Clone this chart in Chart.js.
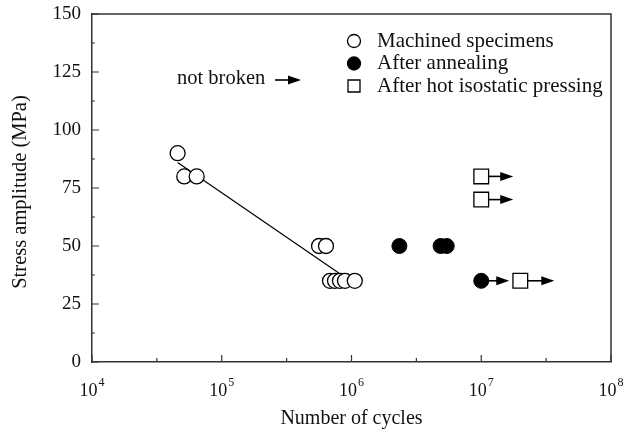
<!DOCTYPE html>
<html><head><meta charset="utf-8">
<script src="https://cdn.jsdelivr.net/npm/chart.js@4"></script>
<style>html,body{margin:0;padding:0;background:#fff}#wrap{width:626px;height:435px;position:relative}</style>
</head><body><div id="wrap"><canvas id="c" width="626" height="435"></canvas></div>
<script>
// ---- data ----
const machinedCycles = [4.57e4, 5.14e4, 6.41e4, 5.62e5, 6.36e5, 6.83e5, 7.46e5, 8.15e5, 8.91e5, 1.06e6];
const machinedStress = [90, 80, 80, 50, 50, 35, 35, 35, 35, 35];
const annealedCycles = [2.34e6, 4.86e6, 5.42e6, 1.0e7];
const annealedStress = [50, 50, 50, 35];
const hipCycles = [1.0e7, 1.0e7, 2.0e7];
const hipStress = [80, 70, 35];
const fitCycles = [4.57e4, 8.4e5];
const fitStress = [86, 37.5];
const runoutCycles = [1.0e7, 1.0e7, 1.0e7, 2.0e7];
const runoutStress = [80, 70, 35, 35];
const xTickExponents = [4, 5, 6, 7, 8];
const yTickValues = [0, 25, 50, 75, 100, 125, 150];
const seriesLabels = ['Machined specimens', 'After annealing', 'After hot isostatic pressing'];
const runoutLabel = 'not broken';
const xTitle = 'Number of cycles';
const yTitle = 'Stress amplitude (MPa)';

const pts = (xs, ys) => xs.map((x, i) => ({x, y: ys[i]}));
const FONT = "'Liberation Serif', 'Times New Roman', serif";
const INK = '#111';
const AXIS = '#333';

function arrow(ctx, x0, x1, y) {
  ctx.save();
  ctx.strokeStyle = '#000'; ctx.fillStyle = '#000'; ctx.lineWidth = 1.6;
  ctx.beginPath(); ctx.moveTo(x0, y); ctx.lineTo(x1 - 8, y); ctx.stroke();
  ctx.beginPath(); ctx.moveTo(x1, y); ctx.lineTo(x1 - 13, y - 4.5); ctx.lineTo(x1 - 13, y + 4.5); ctx.closePath(); ctx.fill();
  ctx.restore();
}

const deco = {
  id: 'deco',
  afterDraw(chart) {
    const {ctx, chartArea: a, scales: {x, y}} = chart;
    ctx.save();
    ctx.strokeStyle = AXIS; ctx.lineWidth = 1.5;
    ctx.beginPath();
    ctx.moveTo(a.left, a.top); ctx.lineTo(a.right, a.top); ctx.lineTo(a.right, a.bottom);
    ctx.stroke();
    ctx.lineWidth = 1.2;
    ctx.beginPath();
    xTickExponents.forEach((e, i) => {
      const px = x.getPixelForValue(Math.pow(10, e));
      ctx.moveTo(px, a.bottom); ctx.lineTo(px, a.bottom - 7);
      if (i < xTickExponents.length - 1) {
        const pm = x.getPixelForValue(Math.pow(10, e + 0.5));
        ctx.moveTo(pm, a.bottom); ctx.lineTo(pm, a.bottom - 4);
      }
    });
    yTickValues.forEach((v, i) => {
      const py = y.getPixelForValue(v);
      ctx.moveTo(a.left, py); ctx.lineTo(a.left + 7, py);
      if (i < yTickValues.length - 1) {
        const pm = y.getPixelForValue(v + 12.5);
        ctx.moveTo(a.left, pm); ctx.lineTo(a.left + 3, pm);
      }
    });
    ctx.stroke();
    ctx.fillStyle = INK;
    ctx.textBaseline = 'alphabetic';
    xTickExponents.forEach(e => {
      const px = x.getPixelForValue(Math.pow(10, e));
      ctx.font = '18px ' + FONT;
      const wb = ctx.measureText('10').width;
      ctx.font = '12px ' + FONT;
      const we = ctx.measureText(String(e)).width;
      const left = px - (wb + we + 1) / 2;
      ctx.font = '18px ' + FONT;
      ctx.textAlign = 'left';
      ctx.fillText('10', left, 396);
      ctx.font = '12px ' + FONT;
      ctx.fillText(String(e), left + wb + 1, 386);
    });
    ctx.font = '20px ' + FONT;
    ctx.textAlign = 'center'; ctx.textBaseline = 'middle';
    ctx.fillText(xTitle, (a.left + a.right) / 2, 419);
    ctx.save();
    ctx.font = '20.5px ' + FONT;
    ctx.translate(21, (a.top + a.bottom) / 2 + 4);
    ctx.rotate(-Math.PI / 2);
    ctx.fillText(yTitle, 0, 0);
    ctx.restore();
    runoutCycles.forEach((c, i) => {
      const px = x.getPixelForValue(c), py = y.getPixelForValue(runoutStress[i]);
      const len = (i === 2) ? 28 : (c > 1.5e7 ? 34 : 32);
      arrow(ctx, px + 7, px + len, py);
    });
    ctx.font = '20.5px ' + FONT;
    ctx.textAlign = 'left'; ctx.textBaseline = 'middle';
    ctx.fillStyle = INK;
    ctx.fillText(runoutLabel, 177, 79);
    arrow(ctx, 275, 301, 80);
    const ds = chart.data.datasets;
    const rows = [41, 63.5, 86];
    seriesLabels.forEach((lab, i) => {
      const d = ds[i];
      const mx = 354, my = rows[i];
      ctx.lineWidth = 1.3; ctx.strokeStyle = '#000'; ctx.fillStyle = d.backgroundColor;
      ctx.beginPath();
      if (d.pointStyle === 'rect') ctx.rect(mx - 6, my - 6, 12, 12);
      else ctx.arc(mx, my, 6.5, 0, Math.PI * 2);
      ctx.fill(); ctx.stroke();
      ctx.fillStyle = INK;
      ctx.font = '21px ' + FONT;
      ctx.fillText(lab, 377, my);
    });
    ctx.restore();
  }
};

new Chart(document.getElementById('c'), {
  type: 'scatter',
  data: {
    datasets: [
      {label: seriesLabels[0], data: pts(machinedCycles, machinedStress), pointStyle: 'circle', pointRadius: 7.5,
       backgroundColor: '#fff', borderColor: '#000', borderWidth: 1.3},
      {label: seriesLabels[1], data: pts(annealedCycles, annealedStress), pointStyle: 'circle', pointRadius: 7.5,
       backgroundColor: '#000', borderColor: '#000', borderWidth: 1},
      {label: seriesLabels[2], data: pts(hipCycles, hipStress), pointStyle: 'rect', pointRadius: 10.4,
       backgroundColor: '#fff', borderColor: '#000', borderWidth: 1.3},
      {label: 'fit', data: pts(fitCycles, fitStress), showLine: true, pointRadius: 0,
       borderColor: '#000', borderWidth: 1.2, fill: false}
    ]
  },
  options: {
    responsive: false, animation: false, devicePixelRatio: 1,
    layout: {padding: {top: 14, right: 15, left: 0, bottom: 0}},
    plugins: {legend: {display: false}, tooltip: {enabled: false}},
    scales: {
      x: {type: 'logarithmic', min: 1e4, max: 1e8,
          ticks: {display: false}, grid: {display: false, drawTicks: false},
          border: {display: true, color: AXIS, width: 1.5},
          afterFit: s => { s.height = 73; s.paddingLeft = 0; s.paddingRight = 0; }},
      y: {min: 0, max: 150,
          afterBuildTicks: s => { s.ticks = yTickValues.map(v => ({value: v})); },
          ticks: {font: {family: FONT, size: 19}, color: INK, padding: 11},
          grid: {display: false, drawTicks: false},
          border: {display: true, color: AXIS, width: 1.5},
          afterFit: s => { s.width = 92; s.paddingTop = 0; s.paddingBottom = 0; }}
    }
  },
  plugins: [deco]
});
</script>
</body></html>
